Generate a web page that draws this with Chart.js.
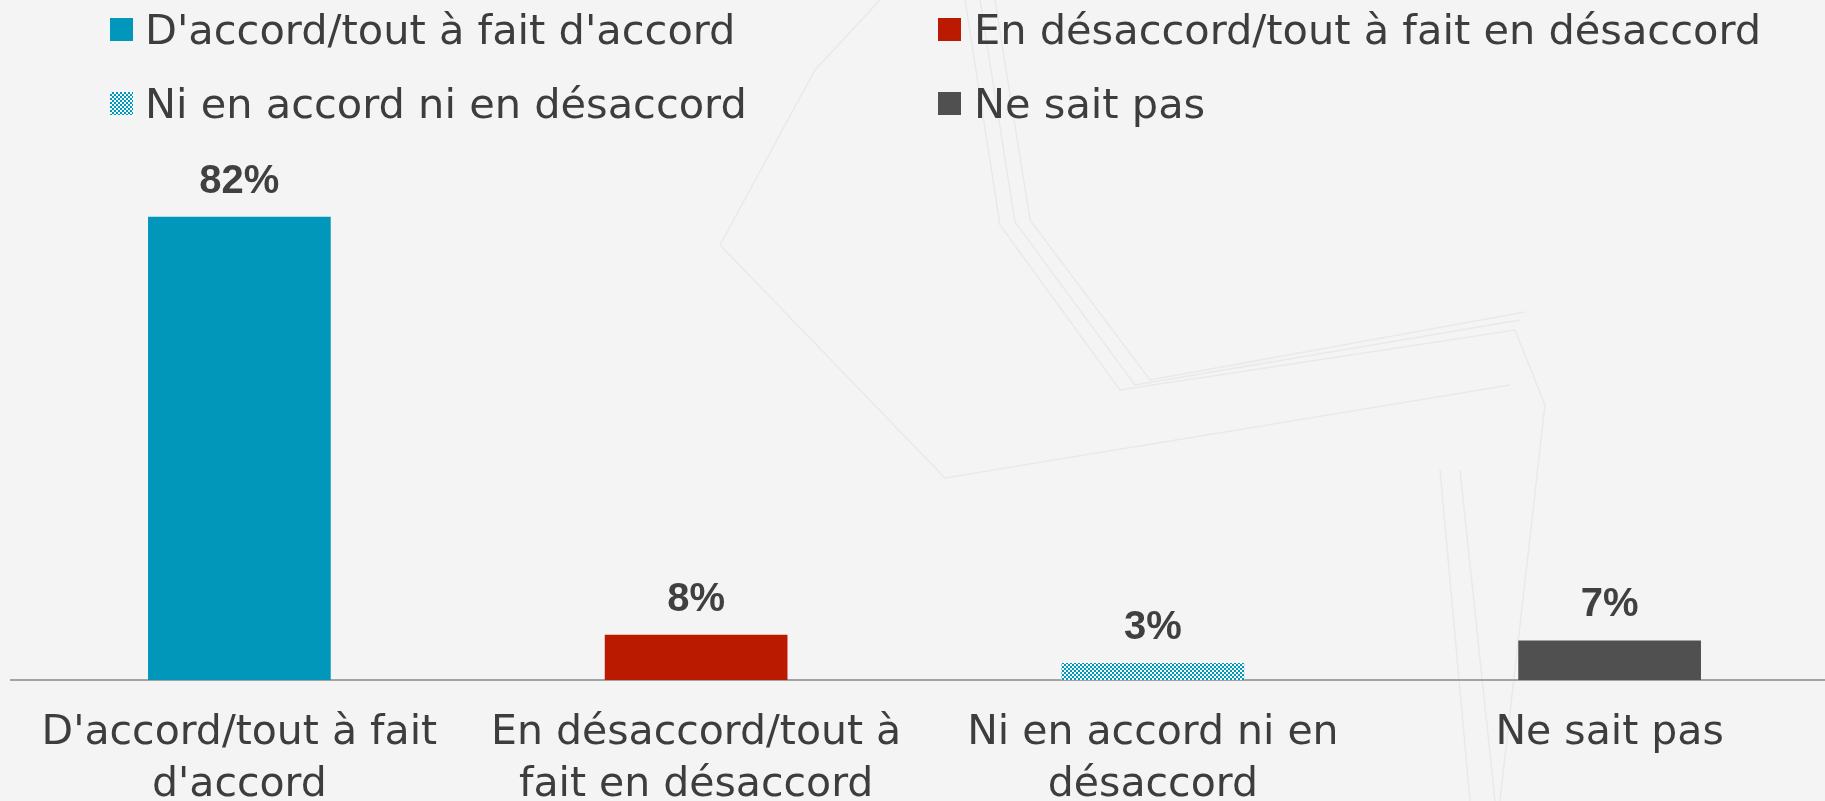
<!DOCTYPE html>
<html>
<head>
<meta charset="utf-8">
<script src="https://cdn.jsdelivr.net/npm/chart.js@4/dist/chart.umd.min.js"></script>
<style>
  html, body { margin: 0; padding: 0; background: #f4f4f4; overflow: hidden; }
  #wrap { position: relative; width: 1825px; height: 801px; overflow: hidden; }
  #deco { position: absolute; left: 0; top: 0; }
  canvas { position: absolute; left: 0; top: 0; }
</style>
</head>
<body>
<div id="wrap">
<svg id="deco" width="1825" height="801" viewBox="0 0 1825 801" fill="none" stroke="#e9e9e9" stroke-width="1.5">
  <polyline points="720,245 815,70 880,0"/>
  <polyline points="720,245 945,478 1510,385"/>
  <polyline points="965,0 1000,225 1120,390 1515,330 1545,405"/>
  <polyline points="980,0 1015,222 1135,385 1520,320"/>
  <polyline points="995,0 1030,220 1150,380 1525,312"/>
  <polyline points="1440,470 1470,801"/>
  <polyline points="1460,470 1495,801"/>
  <polyline points="1545,405 1500,801"/>
</svg>
<canvas id="c" width="1840" height="801"></canvas>
</div>
<script>
// ---- data ----
const categories = ["D'accord/tout à fait d'accord", "En désaccord/tout à fait en désaccord", "Ni en accord ni en désaccord", "Ne sait pas"];
const tickLabels = [["D'accord/tout à fait", "d'accord"], ["En désaccord/tout à", "fait en désaccord"], ["Ni en accord ni en", "désaccord"], ["Ne sait pas"]];
const values = [82, 8, 3, 7];
const valueLabels = ["82%", "8%", "3%", "7%"];

// ---- styles ----
const TEAL = '#0097BA', RED = '#B91A00', GREY = '#505050', TEXT = '#3d3d3d';
const FONT = '"DejaVu Sans", sans-serif';

function makePattern() {
  const p = document.createElement('canvas');
  p.width = 4; p.height = 4;
  const g = p.getContext('2d');
  g.fillStyle = '#f4f8f9'; g.fillRect(0, 0, 4, 4);
  g.fillStyle = TEAL; g.fillRect(0, 0, 2, 2); g.fillRect(2, 2, 2, 2);
  return document.getElementById('c').getContext('2d').createPattern(p, 'repeat');
}
const pattern = makePattern();
const colors = [TEAL, RED, pattern, GREY];

const legendPlugin = {
  id: 'customLegend',
  afterDraw(chart) {
    const ctx = chart.ctx;
    const pos = [[110, 18, 145, 44], [938, 18, 974, 44], [110, 92, 145, 118], [938, 92, 974, 118]];
    ctx.save();
    ctx.font = '41.5px ' + FONT;
    ctx.textBaseline = 'alphabetic';
    ctx.textAlign = 'left';
    categories.forEach((name, i) => {
      const [bx, by, tx, ty] = pos[i];
      ctx.fillStyle = colors[i];
      ctx.fillRect(bx, by, 23, 23);
      ctx.fillStyle = TEXT;
      ctx.fillText(name, tx, ty);
    });
    ctx.restore();
  }
};

const valuePlugin = {
  id: 'valueLabels',
  afterDatasetsDraw(chart) {
    const ctx = chart.ctx;
    const meta = chart.getDatasetMeta(0);
    ctx.save();
    ctx.font = 'bold 40px "Liberation Sans", Arial, sans-serif';
    ctx.fillStyle = '#404040';
    ctx.textAlign = 'center';
    ctx.textBaseline = 'alphabetic';
    meta.data.forEach((bar, i) => {
      ctx.fillText(valueLabels[i], bar.x, bar.y - 24);
    });
    ctx.restore();
  }
};

new Chart(document.getElementById('c'), {
  type: 'bar',
  data: {
    labels: tickLabels,
    datasets: [{
      data: values,
      backgroundColor: colors,
      borderWidth: 0,
      categoryPercentage: 1.0,
      barPercentage: 0.4
    }]
  },
  options: {
    responsive: false,
    animation: false,
    layout: { padding: { top: 171.5, left: 11, right: 2, bottom: 0 } },
    plugins: { legend: { display: false }, tooltip: { enabled: false } },
    scales: {
      x: {
        grid: { display: false, drawTicks: false },
        border: { display: true, color: '#a3a3a3', width: 2 },
        ticks: {
          color: TEXT,
          font: { family: FONT, size: 41, lineHeight: 1.27 },
          padding: 27,
          maxRotation: 0,
          autoSkip: false
        },
        afterFit(scale) { scale.height = 121; }
      },
      y: {
        display: false,
        min: 0,
        max: 90
      }
    }
  },
  plugins: [legendPlugin, valuePlugin]
});
</script>
</body>
</html>
